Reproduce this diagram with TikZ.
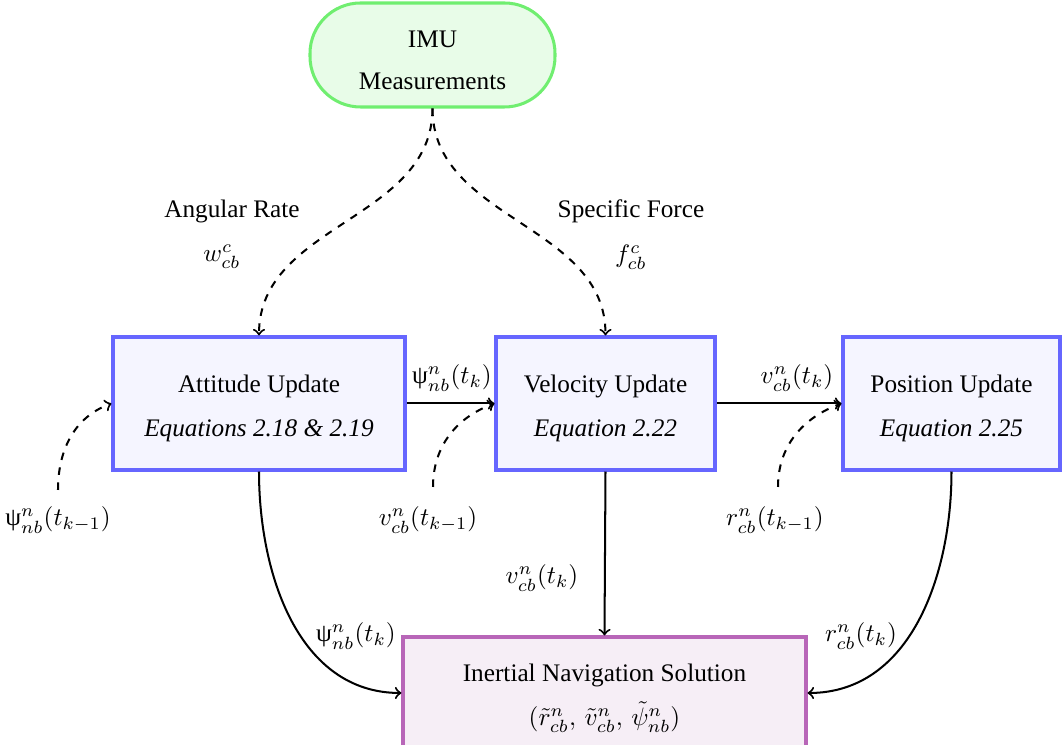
\documentclass[tikz,border=0pt]{standalone}
\usepackage[no-math]{fontspec}
\setmainfont{Liberation Serif}
\definecolor{imuline}{HTML}{70EE70}
\definecolor{imufill}{HTML}{E8FCE8}
\definecolor{updline}{HTML}{6666FF}
\definecolor{updfill}{HTML}{F5F5FF}
\definecolor{insline}{HTML}{B866B8}
\definecolor{insfill}{HTML}{F6EEF6}
\newcommand{\ppsi}{\mbox{ψ}}
% strut that lowers the first line of a block a little
\newcommand{\topstrut}{\rule{0pt}{11pt}}
\tikzset{
  sensor/.style={draw=imuline, fill=imufill, line width=1.2pt, rounded corners=20pt,
    align=center, minimum width={245*0.396pt}, minimum height={104*0.396pt}},
  updbox/.style={draw=updline, fill=updfill, line width=1.2pt, align=center,
    minimum height={133*0.396pt}},
  solbox/.style={draw=insline, fill=insfill, line width=1.2pt, align=center,
    minimum width={403*0.396pt}, minimum height={112*0.396pt}},
  flow/.style={->, line width=0.8pt},
  feed/.style={->, dashed, line width=0.8pt},
  lbl/.style={inner sep=0pt}
}
\begin{document}
\begin{tikzpicture}[x=0.396pt, y=-0.396pt]
\useasboundingbox (0,0) rectangle (1062,745);

% blocks
\node[sensor] (imu) at (432.5,55) {\topstrut IMU\\[4.6pt]Measurements};
\node[updbox, minimum width={292*0.396pt}] (att) at (259,403.5)
  {\topstrut Attitude Update\\[5.4pt]\textit{Equations 2.18 \& 2.19}};
\node[updbox, minimum width={219*0.396pt}] (vel) at (605.5,403.5)
  {\topstrut Velocity Update\\[5.4pt]\textit{Equation 2.22}};
\node[updbox, minimum width={217*0.396pt}] (pos) at (951.5,403.5)
  {\topstrut Position Update\\[5.4pt]\textit{Equation 2.25}};
\node[solbox] (ins) at (604.5,693)
  {\topstrut Inertial Navigation Solution\\[5.4pt]$(\tilde{r}^n_{cb},\, \tilde{v}^n_{cb},\, \tilde{\psi}^n_{nb})$};

% sensor outputs
\draw[feed] (imu.south) to[out=-90,in=90] (att.north);
\draw[feed] (imu.south) to[out=-90,in=90] (vel.north);
\node[lbl] (rate) at (232,211) {Angular Rate};
\node[lbl] (wcb) at (222,257) {$w^c_{cb}$};
\node[lbl] (force) at (631,211) {Specific Force};
\node[lbl] (fcb) at (631,257) {$f^c_{cb}$};

% previous-epoch states
\coordinate (psiprev) at (58,490);
\coordinate (vprev) at (433,487);
\coordinate (rprev) at (778,487);
\draw[feed] (psiprev) to[out=90,in=200] (att.west);
\draw[feed] (vprev) to[out=90,in=200] (vel.west);
\draw[feed] (rprev) to[out=90,in=200] (pos.west);
\node[lbl] (psiprevlbl) at (58,520) {$\ppsi^n_{nb}(t_{k-1})$};
\node[lbl] (vprevlbl) at (428,520) {$v^n_{cb}(t_{k-1})$};
\node[lbl] (rprevlbl) at (775,520) {$r^n_{cb}(t_{k-1})$};

% chain of updates
\draw[flow] (att.east) -- (vel.west);
\draw[flow] (vel.east) -- (pos.west);
\node[lbl] (psik) at (452,378) {$\ppsi^n_{nb}(t_k)$};
\node[lbl] (vk) at (797,378) {$v^n_{cb}(t_k)$};

% outputs to the solution
\draw[flow] (att.south) to[out=-90,in=180] (ins.west);
\draw[flow] (vel.south) -- (ins.north);
\draw[flow] (pos.south) to[out=-90,in=0] (ins.east);
\node[lbl] (psiout) at (356,636) {$\ppsi^n_{nb}(t_k)$};
\node[lbl] (vout) at (542,578) {$v^n_{cb}(t_k)$};
\node[lbl] (rout) at (861,636) {$r^n_{cb}(t_k)$};
\end{tikzpicture}
\end{document}
